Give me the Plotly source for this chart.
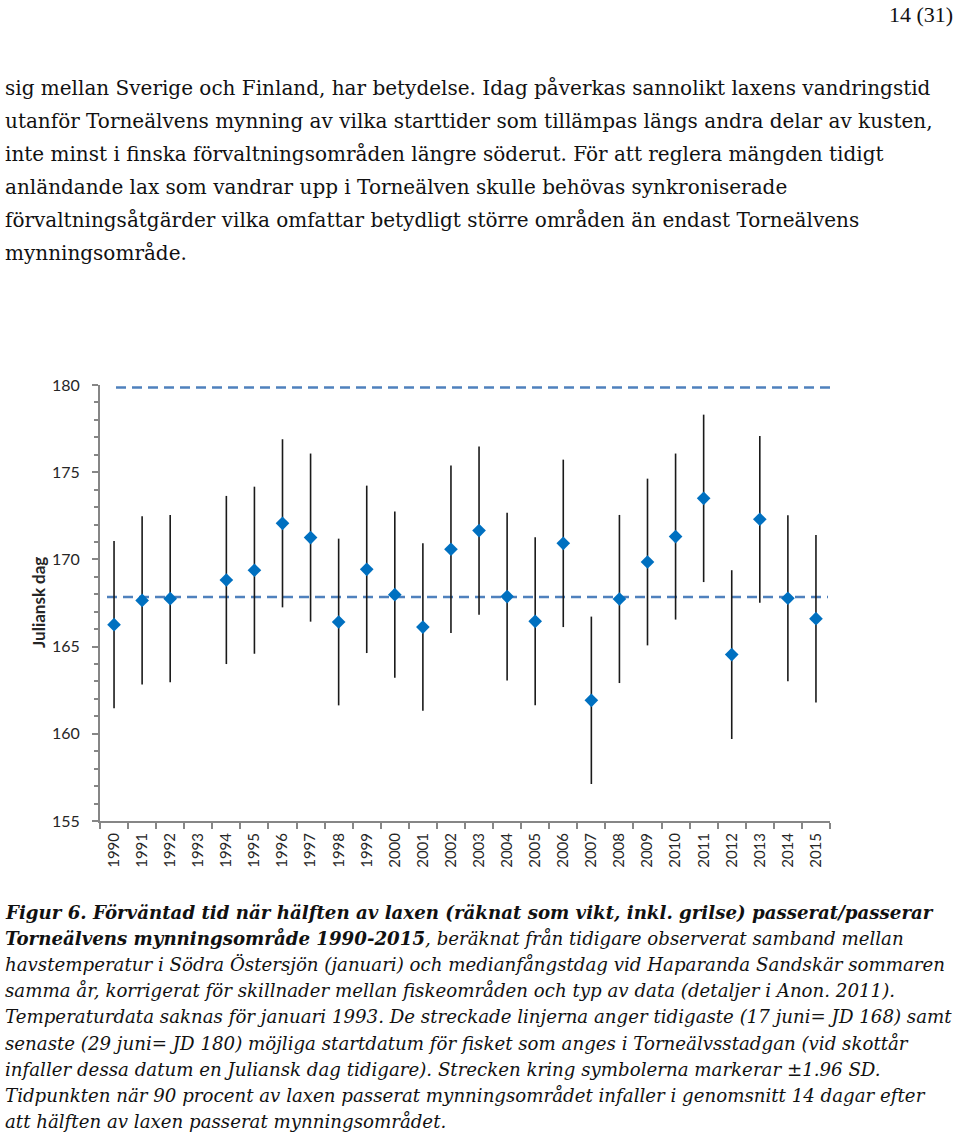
import plotly.graph_objects as go

# ---- data ----
years = [str(y) for y in range(1990, 2016)]
julian_day = [166.26, 167.65, 167.75, None, 168.82, 169.38, 172.07, 171.25, 166.41, 169.43,
              167.98, 166.12, 170.58, 171.65, 167.87, 166.45, 170.92, 161.92, 167.73, 169.85,
              171.31, 173.50, 164.54, 172.30, 167.77, 166.60]
ci_196sd = [4.80, 4.82, 4.80, None, 4.82, 4.79, 4.82, 4.82, 4.78, 4.80,
            4.76, 4.80, 4.80, 4.82, 4.81, 4.82, 4.80, 4.80, 4.82, 4.78,
            4.76, 4.80, 4.84, 4.78, 4.76, 4.80]
earliest_start = 167.85   # 17 juni = JD 168 (as drawn)
latest_start = 179.85     # 29 juni = JD 180 (as drawn)
y_ticks = [155, 160, 165, 170, 175, 180]

body_lines = [
    "sig mellan Sverige och Finland, har betydelse. Idag påverkas sannolikt laxens vandringstid",
    "utanför Torneälvens mynning av vilka starttider som tillämpas längs andra delar av kusten,",
    "inte minst i finska förvaltningsområden längre söderut. För att reglera mängden tidigt",
    "anländande lax som vandrar upp i Torneälven skulle behövas synkroniserade",
    "förvaltningsåtgärder vilka omfattar betydligt större områden än endast Torneälvens",
    "mynningsområde.",
]
caption_lines = [
    "<b>Figur 6. Förväntad tid när hälften av laxen (räknat som vikt, inkl. grilse) passerat/passerar</b>",
    "<b>Torneälvens mynningsområde 1990-2015</b>, beräknat från tidigare observerat samband mellan",
    "havstemperatur i Södra Östersjön (januari) och medianfångstdag vid Haparanda Sandskär sommaren",
    "samma år, korrigerat för skillnader mellan fiskeområden och typ av data (detaljer i Anon. 2011).",
    "Temperaturdata saknas för januari 1993. De streckade linjerna anger tidigaste (17 juni= JD 168) samt",
    "senaste (29 juni= JD 180) möjliga startdatum för fisket som anges i Torneälvsstadgan (vid skottår",
    "infaller dessa datum en Juliansk dag tidigare). Strecken kring symbolerna markerar ±1.96 SD.",
    "Tidpunkten när 90 procent av laxen passerat mynningsområdet infaller i genomsnitt 14 dagar efter",
    "att hälften av laxen passerat mynningsområdet.",
]
page_label = "14 (31)"

# ---- layout geometry ----
W, H = 960, 1136
L, R, T, B = 100, 830, 385, 821


def px(x):
    return (x - L) / (R - L)


def py(y):
    return (B - y) / (B - T)


AX = "#868686"
fig = go.Figure()

fig.add_trace(go.Scatter(
    x=years, y=julian_day, mode="markers",
    marker=dict(symbol="diamond", size=10.5, color="#0070C0", line=dict(width=0)),
    error_y=dict(type="data", array=ci_196sd, visible=True, thickness=1.6, width=0, color="#1a1a1a"),
    showlegend=False, cliponaxis=False,
))

dash_style = dict(color="#4F81BD", width=2.5, dash="10px,6px")
fig.add_shape(type="line", xref="paper", yref="y", x0=px(116), x1=px(833),
              y0=latest_start, y1=latest_start, line=dash_style, layer="below")
fig.add_shape(type="line", xref="paper", yref="y", x0=px(107), x1=px(828),
              y0=earliest_start, y1=earliest_start, line=dash_style, layer="below")

ann = []
ann.append(dict(text="Juliansk dag", textangle=-90, x=px(38), y=0.5, xref="paper", yref="paper",
                xanchor="center", yanchor="middle",
                showarrow=False, font=dict(family="Lato", size=17, color="#262626", weight="bold")))
ann.append(dict(text=page_label, x=px(955), y=py(14), xref="paper", yref="paper", xanchor="right",
                yanchor="middle", showarrow=False,
                font=dict(family="Liberation Serif", size=22, color="#111")))
for i, line in enumerate(body_lines):
    ann.append(dict(text=line, x=px(3), y=py(88 + 33 * i), xref="paper", yref="paper",
                    xanchor="left", yanchor="middle", showarrow=False,
                    font=dict(family="DejaVu Serif", size=20, color="#111")))
for i, line in enumerate(caption_lines):
    ann.append(dict(text="<i>" + line + "</i>", x=px(3), y=py(912 + 26.2 * i), xref="paper", yref="paper",
                    xanchor="left", yanchor="middle", showarrow=False,
                    font=dict(family="DejaVu Serif", size=18.2, color="#111")))

fig.update_layout(
    width=W, height=H,
    margin=dict(l=L, r=W - R, t=T, b=H - B),
    paper_bgcolor="white", plot_bgcolor="white",
    annotations=ann,
    xaxis=dict(type="category", categoryorder="array", categoryarray=years,
               range=[-0.5, len(years) - 0.5],
               tickson="boundaries", ticks="outside", ticklen=6, tickcolor=AX, tickwidth=2,
               showline=True, linecolor=AX, linewidth=2, showgrid=False, zeroline=False,
               tickangle=-90, ticklabelstandoff=4,
               tickfont=dict(family="Lato", size=15, color="#262626")),
    yaxis=dict(range=[155, 180], tickvals=y_ticks, ticks="outside", ticklen=6, tickcolor=AX, tickwidth=2,
               showline=True, linecolor=AX, linewidth=2, showgrid=False, zeroline=False,
               ticklabelstandoff=9,
               minor=dict(dtick=1, tick0=155, ticks="outside", ticklen=4, tickcolor=AX, tickwidth=1.5,
                          showgrid=False),
               tickfont=dict(family="Lato", size=16, color="#262626")),
)

fig.write_html("out.html", config={"displayModeBar": False},
               post_script="document.body.style.margin='0';document.body.style.overflow='hidden';")
